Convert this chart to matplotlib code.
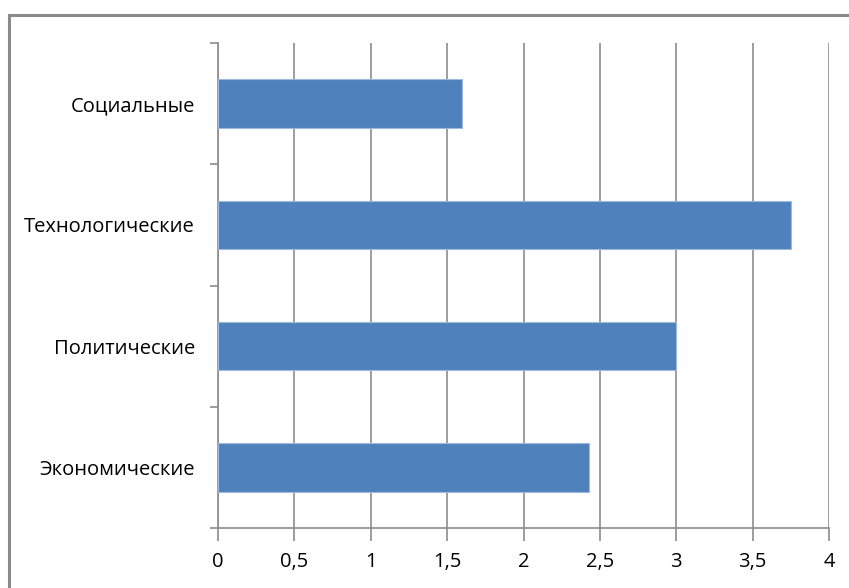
import matplotlib.pyplot as plt
from matplotlib.patches import Rectangle
from matplotlib.ticker import MultipleLocator, FuncFormatter

# данные
categories = ["Экономические", "Политические", "Технологические", "Социальные"]
values = [2.43, 3.0, 3.75, 1.6]

plt.rcParams['font.family'] = ['Open Sans', 'DejaVu Sans']

W, H = 849, 588
fig = plt.figure(figsize=(W / 100, H / 100), dpi=100)
ax = fig.add_axes([218 / W, 1 - 528 / H, (829 - 218) / W, (528 - 43) / H])

bar_color = "#4F81BD"
ypos = list(range(len(categories)))
ax.barh(ypos, values, height=0.4, color=bar_color, edgecolor="#9DB9DC", linewidth=0.8, zorder=3)

ax.set_xlim(0, 4)
ax.set_ylim(-0.5, len(categories) - 0.5)
ax.xaxis.set_major_locator(MultipleLocator(0.5))
ax.xaxis.set_major_formatter(FuncFormatter(lambda v, p: f"{v:g}".replace(".", ",")))
ax.grid(axis="x", color="#8C8C8C", linewidth=1.2, zorder=0)

ax.set_yticks(ypos)
ax.set_yticklabels(categories)
ax.set_yticks([i - 0.5 for i in range(len(categories) + 1)], minor=True)
ax.tick_params(axis="y", which="major", length=0, pad=16.5, labelsize=14.5)
ax.tick_params(axis="y", which="minor", length=6, width=1.2, color="#8C8C8C")
ax.tick_params(axis="x", length=9, width=1.2, color="#8C8C8C", pad=8, labelsize=14.5)

for s in ["top", "right"]:
    ax.spines[s].set_visible(False)
for s in ["left", "bottom"]:
    ax.spines[s].set_color("#8C8C8C")
    ax.spines[s].set_linewidth(1.2)

# рамка вокруг диаграммы
fig.patches.append(Rectangle((9 / W, -0.1), 2, (H - 15) / H + 0.1, transform=fig.transFigure,
                             fill=False, edgecolor="#8A8A8A", linewidth=2.2))

fig.savefig("out.png", dpi=100)
